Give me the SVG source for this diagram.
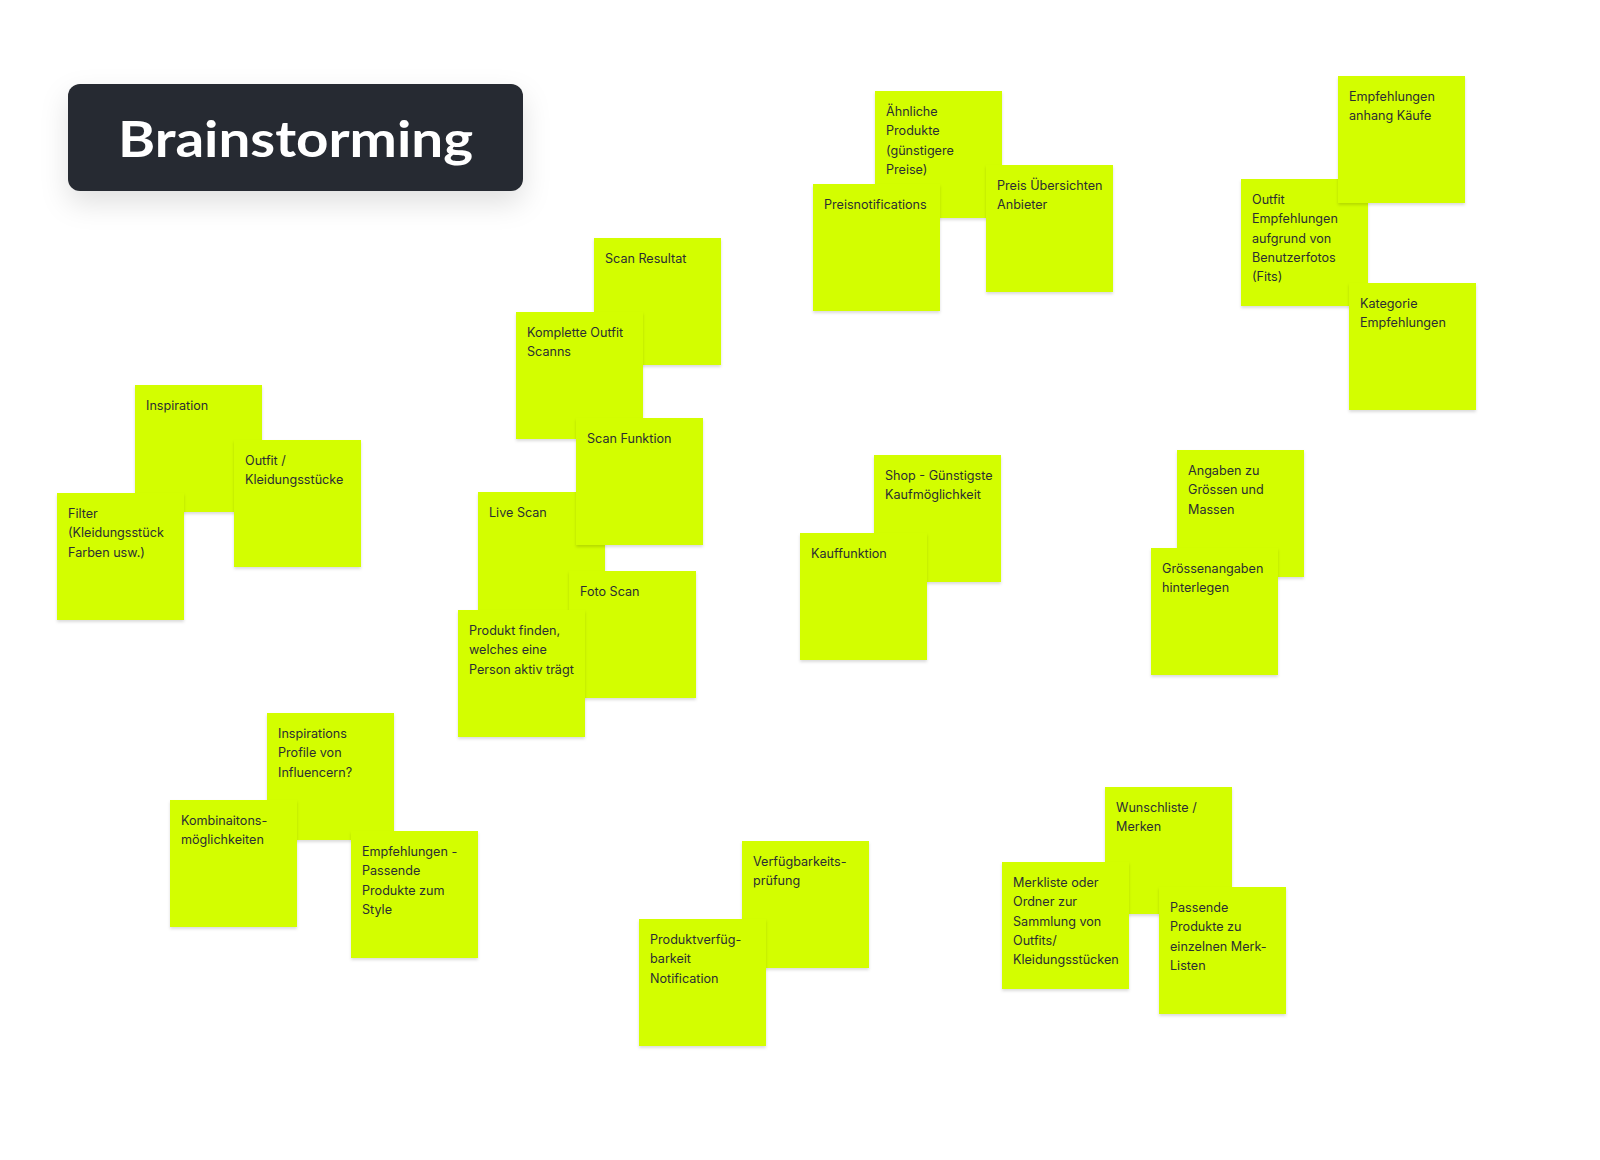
<svg xmlns="http://www.w3.org/2000/svg" width="1600" height="1160" viewBox="0 0 1600 1160">
<defs>
<filter id="sh" x="-10%" y="-10%" width="120%" height="125%">
<feDropShadow dx="0" dy="2" stdDeviation="1.5" flood-color="#000" flood-opacity="0.14"/>
</filter>
<filter id="tsh" x="-20%" y="-40%" width="140%" height="200%">
<feDropShadow dx="0" dy="12" stdDeviation="14" flood-color="#000" flood-opacity="0.12"/>
</filter>
</defs>
<style>
.s{fill:#d3fe00;filter:url(#sh)}
.t{font-family:Inter,"Noto Sans","Liberation Sans",sans-serif;font-size:12.6px;fill:#2b2e33}
.title{font-family:Lato,"Open Sans","Liberation Sans",sans-serif;font-weight:700;font-size:50px;fill:#ffffff}
</style>
<rect width="1600" height="1160" fill="#ffffff"/>
<g id="title">
<rect x="68" y="84" width="455" height="107" rx="12" fill="#272a30" filter="url(#tsh)"/>
<text class="title" x="118" y="157" textLength="355" lengthAdjust="spacingAndGlyphs">Brainstorming</text>
</g>
<g id="connectors"/>

<g id="n-aehnliche" transform="translate(875,91)"><rect class="s" width="127" height="127"/><text class="t" x="11" y="25"><tspan x="11">Ähnliche</tspan><tspan x="11" dy="19.3">Produkte</tspan><tspan x="11" dy="19.3">(günstigere</tspan><tspan x="11" dy="19.3">Preise)</tspan></text></g>
<g id="n-preisnotifications" transform="translate(813,184)"><rect class="s" width="127" height="127"/><text class="t" x="11" y="25">Preisnotifications</text></g>
<g id="n-preisuebersichten" transform="translate(986,165)"><rect class="s" width="127" height="127"/><text class="t" x="11" y="25"><tspan x="11">Preis Übersichten</tspan><tspan x="11" dy="19.3">Anbieter</tspan></text></g>

<g id="n-outfitempf" transform="translate(1241,179)"><rect class="s" width="127" height="127"/><text class="t" x="11" y="25"><tspan x="11">Outfit</tspan><tspan x="11" dy="19.3">Empfehlungen</tspan><tspan x="11" dy="19.3">aufgrund von</tspan><tspan x="11" dy="19.3">Benutzerfotos</tspan><tspan x="11" dy="19.3">(Fits)</tspan></text></g>
<g id="n-empfkaeufe" transform="translate(1338,76)"><rect class="s" width="127" height="127"/><text class="t" x="11" y="25"><tspan x="11">Empfehlungen</tspan><tspan x="11" dy="19.3">anhang Käufe</tspan></text></g>
<g id="n-kategorie" transform="translate(1349,283)"><rect class="s" width="127" height="127"/><text class="t" x="11" y="25"><tspan x="11">Kategorie</tspan><tspan x="11" dy="19.3">Empfehlungen</tspan></text></g>

<g id="n-scanresultat" transform="translate(594,238)"><rect class="s" width="127" height="127"/><text class="t" x="11" y="25">Scan Resultat</text></g>
<g id="n-komplette" transform="translate(516,312)"><rect class="s" width="127" height="127"/><text class="t" x="11" y="25"><tspan x="11">Komplette Outfit</tspan><tspan x="11" dy="19.3">Scanns</tspan></text></g>
<g id="n-livescan" transform="translate(478,492)"><rect class="s" width="127" height="127"/><text class="t" x="11" y="25">Live Scan</text></g>
<g id="n-scanfunktion" transform="translate(576,418)"><rect class="s" width="127" height="127"/><text class="t" x="11" y="25">Scan Funktion</text></g>
<g id="n-fotoscan" transform="translate(569,571)"><rect class="s" width="127" height="127"/><text class="t" x="11" y="25">Foto Scan</text></g>
<g id="n-produktfinden" transform="translate(458,610)"><rect class="s" width="127" height="127"/><text class="t" x="11" y="25"><tspan x="11">Produkt finden,</tspan><tspan x="11" dy="19.3">welches eine</tspan><tspan x="11" dy="19.3">Person aktiv trägt</tspan></text></g>

<g id="n-inspiration" transform="translate(135,385)"><rect class="s" width="127" height="127"/><text class="t" x="11" y="25">Inspiration</text></g>
<g id="n-outfitkleidung" transform="translate(234,440)"><rect class="s" width="127" height="127"/><text class="t" x="11" y="25"><tspan x="11">Outfit /</tspan><tspan x="11" dy="19.3">Kleidungsstücke</tspan></text></g>
<g id="n-filter" transform="translate(57,493)"><rect class="s" width="127" height="127"/><text class="t" x="11" y="25"><tspan x="11">Filter</tspan><tspan x="11" dy="19.3">(Kleidungsstück</tspan><tspan x="11" dy="19.3">Farben usw.)</tspan></text></g>

<g id="n-shop" transform="translate(874,455)"><rect class="s" width="127" height="127"/><text class="t" x="11" y="25"><tspan x="11">Shop - Günstigste</tspan><tspan x="11" dy="19.3">Kaufmöglichkeit</tspan></text></g>
<g id="n-kauffunktion" transform="translate(800,533)"><rect class="s" width="127" height="127"/><text class="t" x="11" y="25">Kauffunktion</text></g>

<g id="n-angaben" transform="translate(1177,450)"><rect class="s" width="127" height="127"/><text class="t" x="11" y="25"><tspan x="11">Angaben zu</tspan><tspan x="11" dy="19.3">Grössen und</tspan><tspan x="11" dy="19.3">Massen</tspan></text></g>
<g id="n-groessenangaben" transform="translate(1151,548)"><rect class="s" width="127" height="127"/><text class="t" x="11" y="25"><tspan x="11">Grössenangaben</tspan><tspan x="11" dy="19.3">hinterlegen</tspan></text></g>

<g id="n-inspirationsprofile" transform="translate(267,713)"><rect class="s" width="127" height="127"/><text class="t" x="11" y="25"><tspan x="11">Inspirations</tspan><tspan x="11" dy="19.3">Profile von</tspan><tspan x="11" dy="19.3">Influencern?</tspan></text></g>
<g id="n-kombinaitons" transform="translate(170,800)"><rect class="s" width="127" height="127"/><text class="t" x="11" y="25"><tspan x="11">Kombinaitons-</tspan><tspan x="11" dy="19.3">möglichkeiten</tspan></text></g>
<g id="n-empfpassende" transform="translate(351,831)"><rect class="s" width="127" height="127"/><text class="t" x="11" y="25"><tspan x="11">Empfehlungen -</tspan><tspan x="11" dy="19.3">Passende</tspan><tspan x="11" dy="19.3">Produkte zum</tspan><tspan x="11" dy="19.3">Style</tspan></text></g>

<g id="n-verfuegbarkeit" transform="translate(742,841)"><rect class="s" width="127" height="127"/><text class="t" x="11" y="25"><tspan x="11">Verfügbarkeits-</tspan><tspan x="11" dy="19.3">prüfung</tspan></text></g>
<g id="n-produktverfueg" transform="translate(639,919)"><rect class="s" width="127" height="127"/><text class="t" x="11" y="25"><tspan x="11">Produktverfüg-</tspan><tspan x="11" dy="19.3">barkeit</tspan><tspan x="11" dy="19.3">Notification</tspan></text></g>

<g id="n-wunschliste" transform="translate(1105,787)"><rect class="s" width="127" height="127"/><text class="t" x="11" y="25"><tspan x="11">Wunschliste /</tspan><tspan x="11" dy="19.3">Merken</tspan></text></g>
<g id="n-merkliste" transform="translate(1002,862)"><rect class="s" width="127" height="127"/><text class="t" x="11" y="25"><tspan x="11">Merkliste oder</tspan><tspan x="11" dy="19.3">Ordner zur</tspan><tspan x="11" dy="19.3">Sammlung von</tspan><tspan x="11" dy="19.3">Outfits/</tspan><tspan x="11" dy="19.3">Kleidungsstücken</tspan></text></g>
<g id="n-passendeprodukte" transform="translate(1159,887)"><rect class="s" width="127" height="127"/><text class="t" x="11" y="25"><tspan x="11">Passende</tspan><tspan x="11" dy="19.3">Produkte zu</tspan><tspan x="11" dy="19.3">einzelnen Merk-</tspan><tspan x="11" dy="19.3">Listen</tspan></text></g>
</svg>
